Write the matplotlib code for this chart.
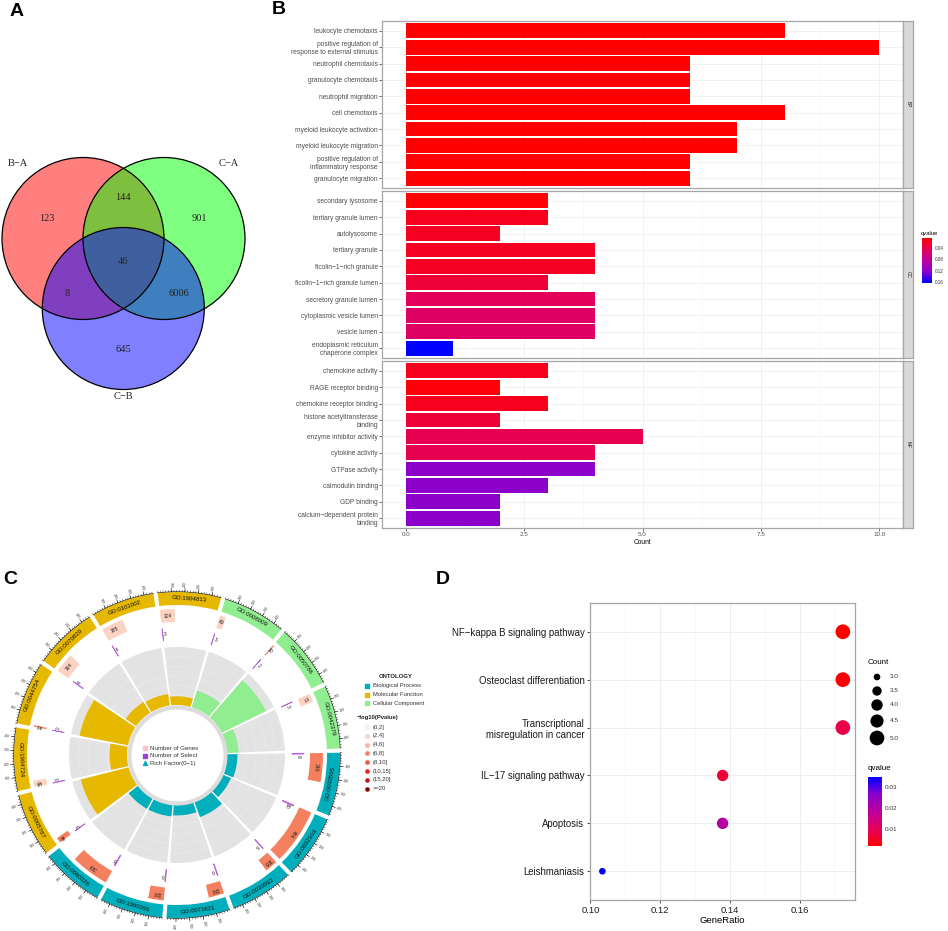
import matplotlib
matplotlib.use("Agg")
import matplotlib.pyplot as plt
import numpy as np
from matplotlib.colors import LinearSegmentedColormap, Normalize
from matplotlib.cm import ScalarMappable
from matplotlib.patches import Circle

plt.rcParams['font.family'] = ['Liberation Sans', 'DejaVu Sans']

W, H = 948, 931

# ---------------- data ----------------
# A: venn
venn_names = ["B−A", "C−A", "C−B"]
venn_only = [123, 901, 645]
venn_pair = [144, 8, 6006]   # BA&CA, BA&CB, CA&CB
venn_all = 46

# B: GO barplot
bp_terms = ["leukocyte chemotaxis", "positive regulation of\nresponse to external stimulus",
            "neutrophil chemotaxis", "granulocyte chemotaxis", "neutrophil migration",
            "cell chemotaxis", "myeloid leukocyte activation", "myeloid leukocyte migration",
            "positive regulation of\ninflammatory response", "granulocyte migration"]
bp_count = [8, 10, 6, 6, 6, 8, 7, 7, 6, 6]
bp_q = [0.006, 0.005, 0.006, 0.006, 0.006, 0.006, 0.006, 0.006, 0.006, 0.006]
cc_terms = ["secondary lysosome", "tertiary granule lumen", "autolysosome", "tertiary granule",
            "ficolin−1−rich granule", "ficolin−1−rich granule lumen", "secretory granule lumen",
            "cytoplasmic vesicle lumen", "vesicle lumen", "endoplasmic reticulum\nchaperone complex"]
cc_count = [3, 3, 2, 4, 4, 3, 4, 4, 4, 1]
cc_q = [0.007, 0.018, 0.02, 0.02, 0.02, 0.03, 0.045, 0.05, 0.05, 0.163]
mf_terms = ["chemokine activity", "RAGE receptor binding", "chemokine receptor binding",
            "histone acetyltransferase\nbinding", "enzyme inhibitor activity", "cytokine activity",
            "GTPase activity", "calmodulin binding", "GDP binding",
            "calcium−dependent protein\nbinding"]
mf_count = [3, 2, 3, 2, 5, 4, 4, 3, 2, 2]
mf_q = [0.018, 0.009, 0.018, 0.03, 0.04, 0.04, 0.122, 0.122, 0.122, 0.122]
q_ticks = [0.04, 0.08, 0.12, 0.16]

# C: GO circle
go_ids = ["GO:1904813", "GO:0008009", "GO:0050786", "GO:0042379", "GO:0030595", "GO:0032103",
          "GO:0030593", "GO:0071621", "GO:1990266", "GO:0060326", "GO:0005767", "GO:1904724",
          "GO:0044754", "GO:0070820", "GO:0101002"]
go_type = ["MF", "CC", "CC", "CC", "BP", "BP", "BP", "BP", "BP", "BP", "MF", "MF", "MF", "MF", "MF"]
go_genes = [124, 49, 10, 71, 240, 464, 105, 130, 130, 319, 44, 55, 12, 164, 185]
go_select = [3, 3, 2, 3, 8, 10, 6, 6, 6, 8, 3, 3, 2, 4, 4]
go_rich = [0.15, 0.3, 0.85, 0.2, 0.18, 0.15, 0.28, 0.18, 0.2, 0.2, 0.85, 0.3, 0.85, 0.22, 0.2]
go_pbin = [1, 1, 3, 1, 3, 3, 3, 3, 3, 3, 3, 1, 3, 1, 1]
type_names = {"BP": "Biological Process", "MF": "Molecular Function", "CC": "Cellular Component"}
type_cols = {"BP": "#00AFBB", "MF": "#E7B800", "CC": "#90EE90"}
pbin_labels = ["(0,2]", "(2,4]", "(4,6]", "(6,8]", "(8,10]", "(10,15]", "(15,20]", ">=20"]
pbin_cols = ["#F4F4F4", "#FCD3C3", "#FAB39D", "#F5805F", "#F2553F", "#E8201E", "#C8101A", "#8B0000"]

# D: KEGG dotplot
kegg_terms = ["NF−kappa B signaling pathway", "Osteoclast differentiation",
              "Transcriptional\nmisregulation in cancer", "IL−17 signaling pathway",
              "Apoptosis", "Leishmaniasis"]
kegg_ratio = [5/29, 5/29, 5/29, 4/29, 4/29, 3/29]
kegg_count = [5, 5, 5, 4, 4, 3]
kegg_q = [0.0019, 0.0025, 0.0085, 0.0068, 0.0195, 0.0348]
count_levels = [3.0, 3.5, 4.0, 4.5, 5.0]

# ---------------- helpers ----------------
fig = plt.figure(figsize=(W/100, H/100), dpi=100)


def px_axes(x0, y0, x1, y1, **kw):
    return fig.add_axes([x0/W, 1 - y1/H, (x1 - x0)/W, (y1 - y0)/H], **kw)


qcmap = LinearSegmentedColormap.from_list(
    "rb", [(0, "#FF0000"), (0.25, "#E3005A"), (0.5, "#BC009E"), (0.75, "#8A00CC"), (1, "#0000FF")])

# ---------------- A ----------------
axa = px_axes(0, 140, 250, 410)
axa.set_xlim(0, 250); axa.set_ylim(410, 140); axa.axis('off')
centers = [(83, 238.5), (164, 238.5), (123.3, 308.5)]
fills = [(1, 0, 0, 0.5), (0, 1, 0, 0.5), (0, 0, 1, 0.5)]
for c, f in zip(centers, fills):
    axa.add_patch(Circle(c, 81, facecolor=f, edgecolor='none'))
for c in centers:
    axa.add_patch(Circle(c, 81, facecolor='none', edgecolor='black', lw=0.9))
serif = dict(family='Liberation Serif', fontsize=7.5, color='#222222', ha='center', va='center')
for name, pos in zip(venn_names, [(18, 164), (229, 164), (123, 397)]):
    axa.text(*pos, name, **serif)
for v, pos in zip(venn_only, [(47, 219), (199, 219), (123, 350)]):
    axa.text(*pos, str(v), **serif)
for v, pos in zip(venn_pair, [(123, 198), (67, 294), (179, 294)]):
    axa.text(*pos, str(v), **serif)
axa.text(123, 262, str(venn_all), **serif)

# ---------------- B ----------------
qnorm = Normalize(0.005, 0.163)
facets = [("BP", bp_terms, bp_count, bp_q, 21, 188),
          ("CC", cc_terms, cc_count, cc_q, 191, 358),
          ("MF", mf_terms, mf_count, mf_q, 361, 528)]
for name, terms, counts, qs, y0, y1 in facets:
    ax = px_axes(382, y0, 903, y1)
    y = np.arange(len(terms))
    ax.barh(y, counts, height=0.9, color=qcmap(qnorm(qs)), zorder=2)
    ax.set_xlim(-0.5, 10.5)
    ax.set_ylim(len(terms) - 0.4, -0.6)
    ax.set_axisbelow(True)
    ax.set_yticks(y)
    ax.set_yticklabels(terms, fontsize=4.8, color='#4D4D4D', linespacing=1.15)
    ax.set_xticks([0, 2.5, 5, 7.5, 10])
    ax.set_xticks([1.25, 3.75, 6.25, 8.75], minor=True)
    ax.grid(which='major', color='#EBEBEB', lw=0.5)
    ax.grid(which='minor', axis='x', color='#F4F4F4', lw=0.4)
    ax.tick_params(axis='y', length=2, width=0.5, color='#333333', pad=1)
    ax.tick_params(axis='x', which='minor', length=0)
    if name != "MF":
        ax.tick_params(axis='x', length=0, labelbottom=False)
    else:
        ax.set_xticklabels(['0.0', '2.5', '5.0', '7.5', '10.0'], fontsize=4.5, color='#4D4D4D')
        ax.tick_params(axis='x', length=2, width=0.5, color='#333333', pad=1)
        ax.set_xlabel("Count", fontsize=4.8, labelpad=1)
    for s in ax.spines.values():
        s.set_color('#A6A6A6'); s.set_linewidth(0.9)
    sx = px_axes(903, y0, 913, y1)
    sx.set_facecolor('#D9D9D9')
    sx.set_xticks([]); sx.set_yticks([])
    for s in sx.spines.values():
        s.set_color('#A6A6A6'); s.set_linewidth(0.9)
    sx.text(0.5, 0.5, name, rotation=-90, fontsize=3.5, color='#1A1A1A',
            ha='center', va='center', transform=sx.transAxes)

cax = px_axes(922, 238, 932, 283)
cb = fig.colorbar(ScalarMappable(norm=qnorm, cmap=qcmap), cax=cax)
cax.invert_yaxis()
cb.set_ticks(q_ticks)
cb.outline.set_visible(False)
cax.tick_params(labelsize=3.3, length=0, pad=2, labelcolor='#333333')
fig.text(921/W, 1 - 233/H, "qvalue", fontsize=4.2, va='center')

# ---------------- C ----------------
axc = fig.add_axes([-3/W, 1 - 935/H, 360/W, 360/H], projection='polar')
axc.set_theta_zero_location('N')
axc.set_theta_direction(-1)
axc.axis('off')

n = len(go_ids)
a0, step, span, xmax = -6.8, 24.0, 22.5, 470.0
starts = np.radians(a0 + step*np.arange(n))
spanr = np.radians(span)
unit = spanr/xmax
cols = [type_cols[t] for t in go_type]


def tang_rot(a, nice=True):
    r = (-a) % 360
    if nice and 90 < a % 360 < 270:
        r = (r + 180) % 360
    return r


def radial_text(th, r, s, **kw):
    a = np.degrees(th)
    phi = (90 - a) % 360
    if np.cos(np.radians(phi)) >= 0:
        axc.text(th, r, s, rotation=phi, rotation_mode='anchor', ha='left', va='center', **kw)
    else:
        axc.text(th, r, s, rotation=phi + 180, rotation_mode='anchor', ha='right', va='center', **kw)


# outer ring with ids
axc.bar(starts, 13, width=spanr, bottom=150, align='edge', color=cols, edgecolor='none', zorder=3)
for i in range(n):
    thc = starts[i] + spanr/2
    axc.text(thc, 156.5, go_ids[i], fontsize=4.4, ha='center', va='center', zorder=5,
             rotation=tang_rot(np.degrees(thc)), rotation_mode='anchor', color='#111111')
    arc = np.linspace(starts[i], starts[i] + spanr, 40)
    axc.plot(arc, np.full_like(arc, 163.3), color='black', lw=0.4, zorder=4)
    minor = starts[i] + np.arange(0, xmax + 1, 20)*unit
    axc.vlines(minor, 163.3, 165, color='black', lw=0.3, zorder=4)
    major = np.arange(100, 401, 100)
    axc.vlines(starts[i] + major*unit, 163.3, 167, color='black', lw=0.4, zorder=4)
    for m in major:
        radial_text(starts[i] + m*unit, 168, str(m), fontsize=2.4, color='#333333')

# number of genes
axc.bar(starts, 13, width=np.array(go_genes)*unit, bottom=133, align='edge',
        color=[pbin_cols[b] for b in go_pbin], edgecolor='none', zorder=3)
for i in range(n):
    thc = starts[i] + go_genes[i]*unit/2
    axc.text(thc, 139.5, str(go_genes[i]), fontsize=3.6, ha='center', va='center', zorder=5,
             rotation=tang_rot(np.degrees(thc), nice=False), rotation_mode='anchor', color='#222222')

# number of select
axc.bar(starts, 12, width=np.array(go_select)*unit, bottom=115, align='edge',
        color='#B45FD8', edgecolor='#B45FD8', lw=0.5, zorder=3)
for i in range(n):
    th = starts[i] + np.radians(1.3)
    axc.text(th, 121, str(go_select[i]), fontsize=3.6, ha='center', va='center', zorder=5,
             rotation=tang_rot(np.degrees(th), nice=False), rotation_mode='anchor', color='#222222')

# rich factor track
axc.bar(starts, 58, width=spanr, bottom=50, align='edge', color='#E3E3E3', edgecolor='none', zorder=1)
for i in range(n):
    arc = np.linspace(starts[i], starts[i] + spanr, 40)
    for rr in np.linspace(50, 108, 7)[1:-1]:
        axc.plot(arc, np.full_like(arc, rr), color='#EDEDED', lw=0.4, zorder=2)
axc.bar(starts, np.array(go_rich)*58, width=spanr, bottom=50, align='edge', color=cols,
        edgecolor='none', zorder=3)
full = np.linspace(0, 2*np.pi, 200)
axc.fill_between(full, 46, 50, color='#DCDCDC', lw=0, zorder=3)
axc.set_rorigin(0)
axc.set_ylim(0, 180)

# ---------------- D ----------------
dnorm = Normalize(0.0019, 0.0348)


def dot_size(c):
    return np.interp(c, [3, 5], [23, 112])


axd = px_axes(590, 603, 855, 900)
yd = np.arange(len(kegg_terms))
axd.scatter(kegg_ratio, yd, s=dot_size(np.array(kegg_count)), c=kegg_q, cmap=qcmap, norm=dnorm,
            zorder=3, edgecolors='none')
axd.set_ylim(len(kegg_terms) - 0.4, -0.6)
axd.set_xlim(0.0999, 0.1759)
axd.set_axisbelow(True)
axd.set_yticks(yd)
axd.set_yticklabels(kegg_terms, fontsize=6.9, color='#1A1A1A', linespacing=1.15)
axd.set_xticks([0.10, 0.12, 0.14, 0.16])
axd.set_xticklabels(['0.10', '0.12', '0.14', '0.16'], fontsize=6.8, color='#1A1A1A')
axd.set_xticks([0.11, 0.13, 0.15, 0.17], minor=True)
axd.grid(which='major', color='#EBEBEB', lw=0.6)
axd.grid(which='minor', axis='x', color='#F4F4F4', lw=0.5)
axd.tick_params(length=2.5, width=0.6, color='#333333', pad=1.5)
axd.tick_params(which='minor', length=0)
axd.set_xlabel("GeneRatio", fontsize=6.8, labelpad=1)
for s in axd.spines.values():
    s.set_color('#A6A6A6'); s.set_linewidth(0.9)

dcax = px_axes(868, 777, 882, 846)
dcb = fig.colorbar(ScalarMappable(norm=dnorm, cmap=qcmap), cax=dcax)
dcb.set_ticks([0.01, 0.02, 0.03])
dcb.outline.set_visible(False)
dcax.tick_params(labelsize=4.6, length=0, pad=2, labelcolor='#333333')
fig.text(868/W, 1 - 769/H, "qvalue", fontsize=5.8, va='center')
fig.text(868/W, 1 - 662/H, "Count", fontsize=5.8, va='center')

# ---------------- overlay: legends and letters ----------------
ov = fig.add_axes([0, 0, 1, 1])
ov.set_xlim(0, W); ov.set_ylim(H, 0); ov.axis('off')

leg_y = [677, 691, 705, 721, 738]
ov.scatter([877]*len(count_levels), leg_y, s=dot_size(np.array(count_levels)), color='black',
           edgecolors='none')
for c, yy in zip(count_levels, leg_y):
    ov.text(890, yy, f"{c:.1f}", fontsize=4.6, va='center', color='#333333')

# centre legend of C
ov.scatter([145], [748], marker='s', s=7, color='#FFC0CB')
ov.scatter([145], [755.5], marker='s', s=7, color='#A040D0')
ov.scatter([145], [763], marker='^', s=8, color='#00AFBB')
for t, yy in zip(["Number of Genes", "Number of Select", "Rich Factor(0−1)"], [748, 755.5, 763]):
    ov.text(150, yy, t, fontsize=4.4, va='center', color='#333333')

# right legend of C
ov.text(379, 676, "ONTOLOGY", fontsize=4.3, fontweight='bold', va='center', color='#222222')
for t, yy in zip(["BP", "MF", "CC"], [686, 694.5, 703]):
    ov.scatter([367], [yy], marker='s', s=7, color=type_cols[t])
    ov.text(373, yy, type_names[t], fontsize=4.2, va='center', color='#333333')
ov.text(357, 717, "−log10(Pvalue)", fontsize=4.2, fontweight='bold', va='center', color='#222222')
for k, (lab, col) in enumerate(zip(pbin_labels, pbin_cols)):
    yy = 727 + k*8.8
    ov.scatter([367], [yy], marker='s', s=12, color='#F2F2F2')
    ov.scatter([367], [yy], marker='o', s=5, color=col)
    ov.text(373, yy, lab, fontsize=4.2, va='center', color='#333333')

for letter, x, yy in [("A", 10, 11), ("B", 272, 10), ("C", 3, 580), ("D", 436, 580)]:
    ov.text(x, yy, letter, fontsize=14, fontweight='bold', va='center', ha='left')

fig.savefig("out.png", dpi=100)
